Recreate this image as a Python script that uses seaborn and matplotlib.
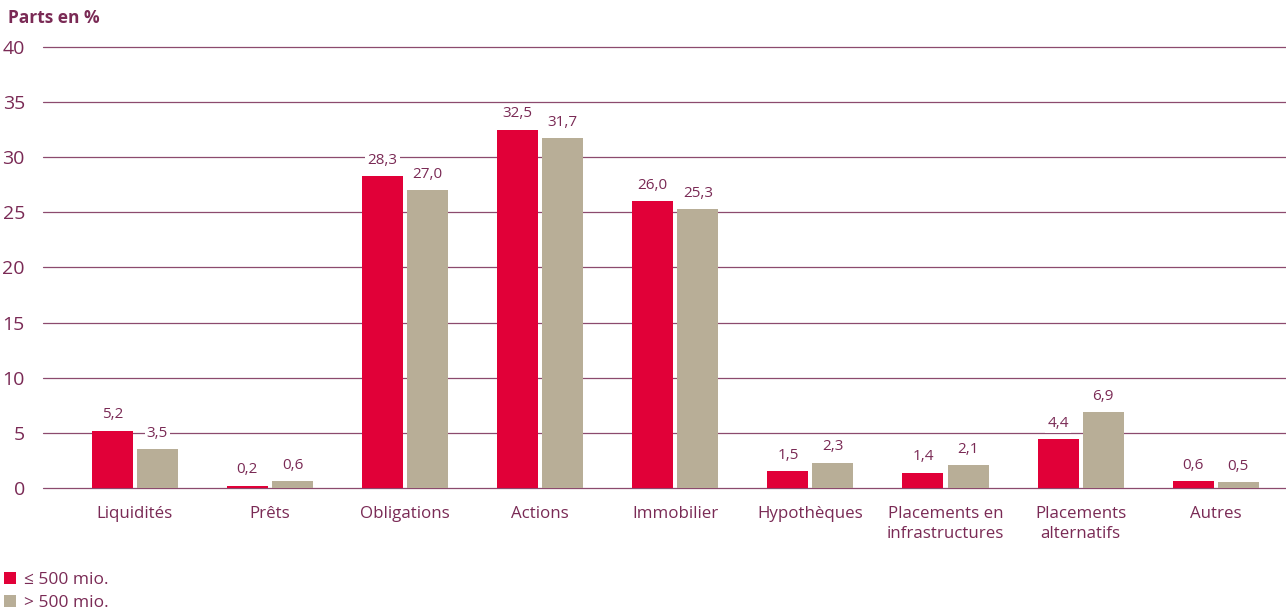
import pandas as pd
import matplotlib.pyplot as plt
import seaborn as sns
from matplotlib.patches import Patch

# --- Data ---
categories = ['Liquidités', 'Prêts', 'Obligations', 'Actions', 'Immobilier',
              'Hypothèques', 'Placements en\ninfrastructures', 'Placements\nalternatifs', 'Autres']
small_funds = [5.2, 0.2, 28.3, 32.5, 26.0, 1.5, 1.4, 4.4, 0.6]
large_funds = [3.5, 0.6, 27.0, 31.7, 25.3, 2.3, 2.1, 6.9, 0.5]
series_names = ['≤ 500 mio.', '> 500 mio.']
y_ticks = [0, 5, 10, 15, 20, 25, 30, 35, 40]

# --- Style ---
RED = '#E10038'
TAN = '#B8AE97'
TEXT = '#7A2A55'
GRID = '#8C4A6E'

sns.set_style('white')
plt.rcParams['font.family'] = ['Open Sans', 'DejaVu Sans']


def fmt(v):
    return f'{v:.1f}'.replace('.', ',')


def main():
    df = pd.DataFrame({
        'Catégorie': categories * 2,
        'Série': [series_names[0]] * len(categories) + [series_names[1]] * len(categories),
        'Part': small_funds + large_funds,
    })

    fig = plt.figure(figsize=(12.86, 6.10), dpi=100)
    ax = fig.add_axes([0.0334, 0.2, 0.9666, 0.723])

    sns.barplot(data=df, x='Catégorie', y='Part', hue='Série',
                palette=[RED, TAN], saturation=1, width=0.667, gap=0.09,
                linewidth=0, edgecolor='none',
                legend=False, ax=ax, zorder=3)

    # value labels (white box interrupts the gridline behind)
    for container, vals in zip(ax.containers, [small_funds, large_funds]):
        texts = ax.bar_label(container, labels=[fmt(v) for v in vals], padding=6,
                             fontsize=11, color=TEXT)
        for t in texts:
            t.set_bbox(dict(facecolor='white', edgecolor='none', pad=1.5))

    ax.set_ylim(0, 40)
    ax.set_xlim(-0.68, 8.52)
    ax.set_yticks(y_ticks)
    ax.yaxis.grid(True, color=GRID, linewidth=0.9, zorder=0)
    ax.xaxis.grid(False)
    for line in ax.get_ygridlines():
        line.set_clip_on(False)
    for s in ax.spines.values():
        s.set_visible(False)

    ax.tick_params(axis='y', length=0, pad=13, labelsize=14, labelcolor=TEXT)
    ax.tick_params(axis='x', length=0, pad=13, labelsize=12.2, labelcolor=TEXT)
    for lbl in ax.get_xticklabels():
        lbl.set_linespacing(1.3)
    ax.set_xlabel('')
    ax.set_ylabel('')

    fig.text(0.006, 0.971, 'Parts en %', fontsize=12.5, fontweight='bold',
             color=TEXT, ha='left', va='center')

    handles = [Patch(facecolor=RED, edgecolor='none'),
               Patch(facecolor=TAN, edgecolor='none')]
    fig.legend(handles, series_names, loc='lower left', bbox_to_anchor=(-0.009, -0.027),
               frameon=False, fontsize=12.5, labelcolor=TEXT, handlelength=0.7,
               handleheight=0.7, handletextpad=0.45, labelspacing=0.4)

    plt.savefig('out.png', dpi=100)


if __name__ == '__main__':
    main()
